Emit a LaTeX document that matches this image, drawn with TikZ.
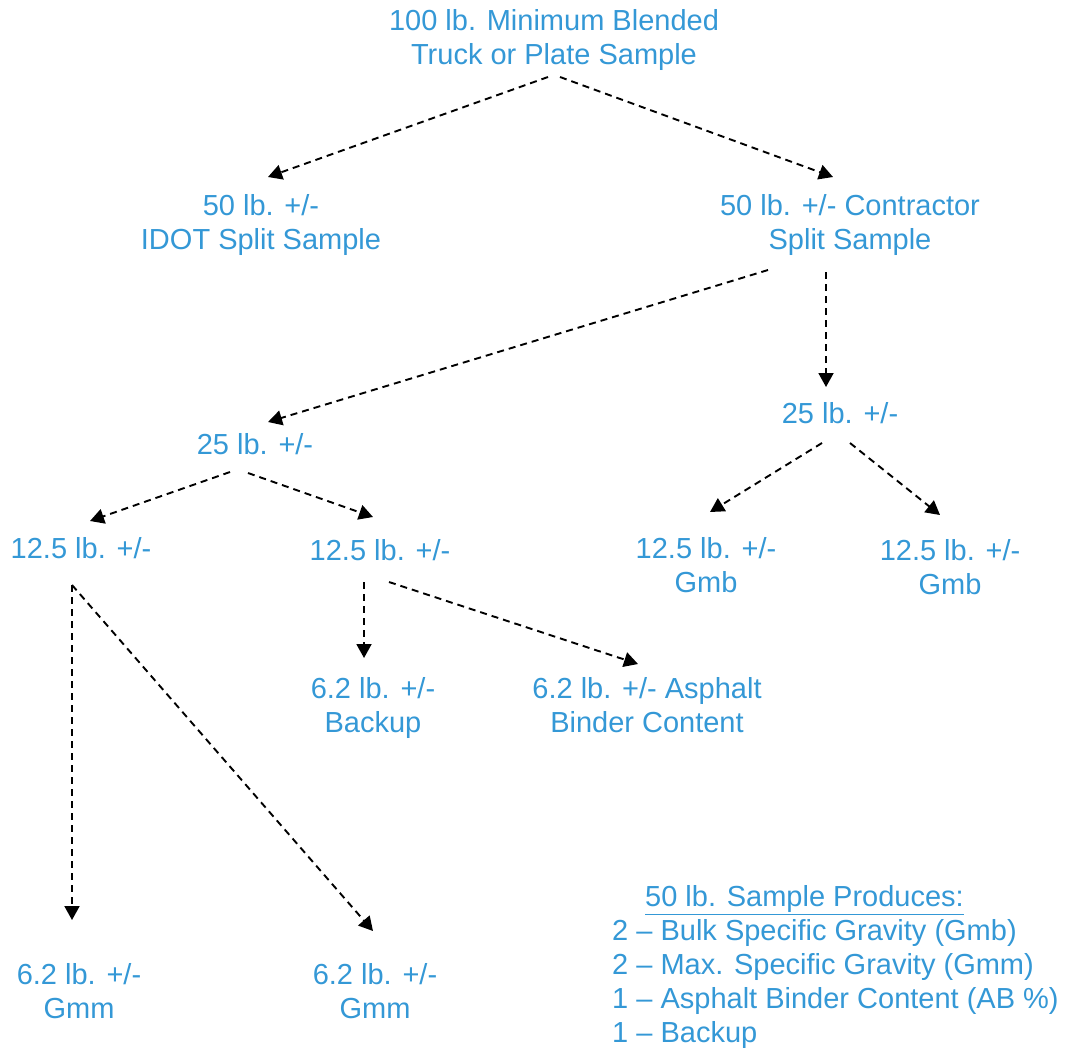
\documentclass[tikz,border=0pt]{standalone}
\usepackage{fontspec}
\setmainfont{Liberation Sans}
\usetikzlibrary{arrows.meta}
\definecolor{txtblue}{RGB}{52,152,214}
\tikzset{
  lbl/.style={text=txtblue, inner sep=0pt, align=center, font=\fontsize{29}{34}\selectfont},
  conn/.style={-{Triangle[length=14pt,width=15pt]}, line width=1.9pt, dash pattern=on 7pt off 5pt, black}
}
\begin{document}
\begin{tikzpicture}[x=1pt,y=-1pt]
\useasboundingbox (0,0) rectangle (1070,1047);
\node[lbl] (top) at (554,40) {100 lb. Minimum Blended\\Truck or Plate Sample};
\node[lbl] (idot) at (261,225) {50 lb. +/-\\IDOT Split Sample};
\node[lbl] (contr) at (850,225) {50 lb. +/- Contractor\\Split Sample};
\node[lbl] (q1) at (255,444) {25 lb. +/-};
\node[lbl] (q2) at (840,413) {25 lb. +/-};
\node[lbl] (e1) at (81,548) {12.5 lb. +/-};
\node[lbl] (e2) at (380,550) {12.5 lb. +/-};
\node[lbl] (e3) at (706,565) {12.5 lb. +/-\\Gmb};
\node[lbl] (e4) at (950,567) {12.5 lb. +/-\\Gmb};
\node[lbl] (s1) at (373,708) {6.2 lb. +/-\\Backup};
\node[lbl] (s2) at (647,705.5) {6.2 lb. +/- Asphalt\\Binder Content};
\node[lbl] (g1) at (79,991.5) {6.2 lb. +/-\\Gmm};
\node[lbl] (g2) at (375,991.5) {6.2 lb. +/-\\Gmm};
\node[lbl, align=left, anchor=north west] (legend) at (612,885.4)
  {\hspace*{33pt}\underline{50 lb. Sample Produces:}\\
   2 – Bulk Specific Gravity (Gmb)\\
   2 – Max. Specific Gravity (Gmm)\\
   1 – Asphalt Binder Content (AB \%)\\
   1 – Backup};
\draw[conn] ([shift={(-6,37)}]top.center) -- ([shift={(7,-48)}]idot.center);
\draw[conn] ([shift={(6,37)}]top.center) -- ([shift={(-17,-48)}]contr.center);
\draw[conn] ([shift={(-82,45)}]contr.center) -- ([shift={(13,-22)}]q1.center);
\draw[conn] ([shift={(-24,47)}]contr.center) -- ([shift={(-14,-26)}]q2.center);
\draw[conn] ([shift={(-25,28)}]q1.center) -- ([shift={(9,-27)}]e1.center);
\draw[conn] ([shift={(-7,29)}]q1.center) -- ([shift={(-7,-33)}]e2.center);
\draw[conn] ([shift={(-18,30)}]q2.center) -- ([shift={(4,-53)}]e3.center);
\draw[conn] ([shift={(10,30)}]q2.center) -- ([shift={(-10,-52)}]e4.center);
\draw[conn] ([shift={(-9,37)}]e1.center) -- ([shift={(-7,-71.5)}]g1.center);
\draw[conn] ([shift={(-9,37)}]e1.center) -- ([shift={(-2,-60.5)}]g2.center);
\draw[conn] ([shift={(-16,32)}]e2.center) -- ([shift={(-9,-50)}]s1.center);
\draw[conn] ([shift={(9,32)}]e2.center) -- ([shift={(-9,-41.5)}]s2.center);
\end{tikzpicture}
\end{document}
